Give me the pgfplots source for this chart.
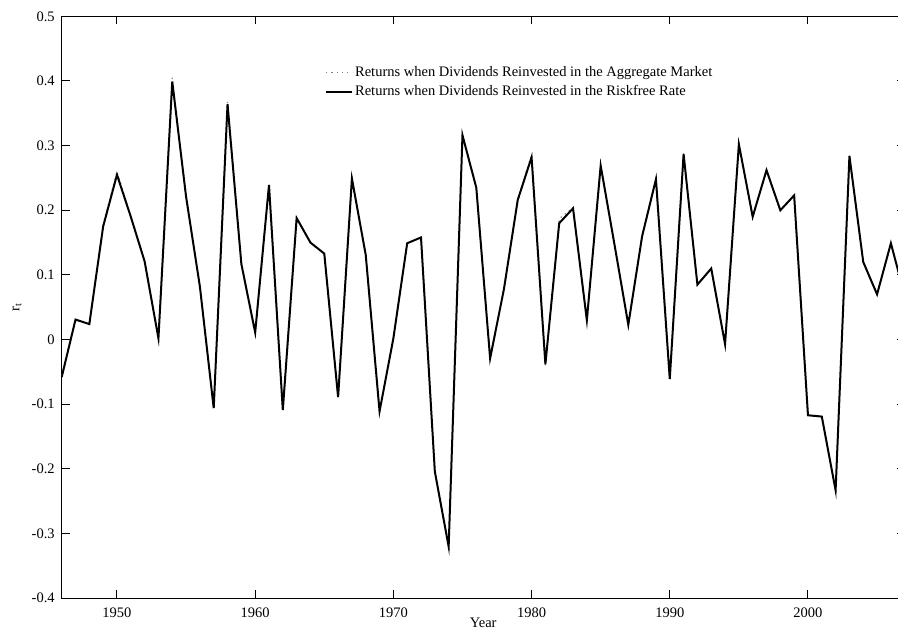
\documentclass[border=0pt]{standalone}
\usepackage{pgfplots}
\pgfplotsset{compat=1.18}
\usepackage{pgfplotstable}
\usepackage{fontspec}
\setmainfont{Liberation Serif}

% Annual returns, dividends reinvested in the aggregate market
\pgfplotstableread{
year r
1946 -0.055
1947 0.031
1948 0.024
1949 0.178
1950 0.260
1951 0.191
1952 0.121
1953 0.001
1954 0.405
1955 0.222
1956 0.082
1957 -0.106
1958 0.368
1959 0.117
1960 0.011
1961 0.241
1962 -0.109
1963 0.188
1964 0.150
1965 0.133
1966 -0.089
1967 0.250
1968 0.131
1969 -0.111
1970 0.002
1971 0.149
1972 0.158
1973 -0.205
1974 -0.324
1975 0.317
1976 0.235
1977 -0.029
1978 0.078
1979 0.217
1980 0.286
1981 -0.040
1982 0.187
1983 0.204
1984 0.030
1985 0.270
1986 0.147
1987 0.021
1988 0.160
1989 0.249
1990 -0.061
1991 0.288
1992 0.085
1993 0.110
1994 -0.007
1995 0.303
1996 0.190
1997 0.263
1998 0.200
1999 0.223
2000 -0.117
2001 -0.119
2002 -0.233
2003 0.285
2004 0.120
2005 0.070
2006 0.149
2007 0.068
}\aggmarket

% Annual returns, dividends reinvested at the riskfree rate
\pgfplotstableread{
year r
1946 -0.058
1947 0.031
1948 0.024
1949 0.175
1950 0.255
1951 0.190
1952 0.121
1953 0.002
1954 0.399
1955 0.221
1956 0.082
1957 -0.106
1958 0.364
1959 0.117
1960 0.011
1961 0.239
1962 -0.109
1963 0.188
1964 0.150
1965 0.133
1966 -0.089
1967 0.249
1968 0.131
1969 -0.111
1970 0.002
1971 0.149
1972 0.158
1973 -0.204
1974 -0.320
1975 0.316
1976 0.235
1977 -0.029
1978 0.078
1979 0.216
1980 0.282
1981 -0.038
1982 0.180
1983 0.203
1984 0.030
1985 0.269
1986 0.147
1987 0.023
1988 0.160
1989 0.248
1990 -0.061
1991 0.287
1992 0.085
1993 0.110
1994 -0.007
1995 0.302
1996 0.190
1997 0.262
1998 0.200
1999 0.223
2000 -0.117
2001 -0.119
2002 -0.233
2003 0.284
2004 0.120
2005 0.070
2006 0.149
2007 0.068
}\riskfree

\begin{document}
\begin{tikzpicture}
\begin{axis}[
  scale only axis,
  width=421.5pt, height=291pt,
  xmin=1946, xmax=2007,
  ymin=-0.4, ymax=0.5,
  xtick={1950,1960,1970,1980,1990,2000},
  xticklabels={1950,1960,1970,1980,1990,2000},
  ytick={-0.4,-0.3,-0.2,-0.1,0,0.1,0.2,0.3,0.4,0.5},
  yticklabels={-0.4,-0.3,-0.2,-0.1,0,0.1,0.2,0.3,0.4,0.5},
  tick align=inside,
  major tick length=4pt,
  axis line style={line width=0.5pt},
  every tick/.style={black, line width=0.5pt},
  tick label style={font=\fontsize{7.25}{8.5}\selectfont},
  xticklabel style={yshift=-1.1pt},
  label style={font=\fontsize{7.25}{8.5}\selectfont},
  xlabel={Year},
  ylabel={r\textsubscript{t}},
  xlabel style={at={(axis description cs:0.5,0)}, anchor=center, yshift=-12.5pt},
  ylabel style={at={(axis description cs:-0.053,0.5)}, anchor=center},
  legend style={draw=none, fill=none,
    font=\fontsize{7.25}{8.5}\selectfont,
    at={(axis description cs:0.3049,0.8868)}, anchor=west,
    inner xsep=3pt, inner ysep=0pt, row sep=1.5pt,
    nodes={inner xsep=1pt, inner ysep=0pt, text height=6pt, text depth=2pt}},
  legend cell align=left,
  legend image code/.code={\draw[#1] (0pt,0pt) -- (13pt,0pt);},
]
\addplot[gray, dotted, line width=0.6pt] table[x=year, y=r] {\aggmarket};
\addlegendentry{Returns when Dividends Reinvested in the Aggregate Market}
\addplot[black, line width=1pt] table[x=year, y=r] {\riskfree};
\addlegendentry{Returns when Dividends Reinvested in the Riskfree Rate}
\end{axis}
\pgfresetboundingbox
\path ([xshift=-30.85pt, yshift=-17.35pt]current axis.south west)
  rectangle ([xshift=418.15pt, yshift=8.15pt]current axis.north west);
\end{tikzpicture}
\end{document}
